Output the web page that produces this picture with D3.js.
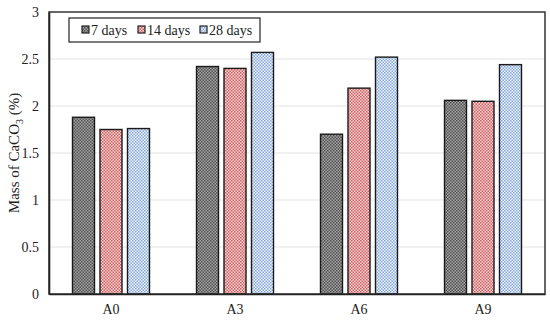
<!DOCTYPE html>
<html>
<head>
<meta charset="utf-8">
<script src="https://cdnjs.cloudflare.com/ajax/libs/d3/7.8.5/d3.min.js"></script>
<style>
  body { margin: 0; background: #fff; }
  text { font-family: "Liberation Serif", "Times New Roman", serif; }
</style>
</head>
<body>
<div id="chart"></div>
<script>
// data
const groups = ["A0", "A3", "A6", "A9"];
const seriesNames = ["7 days", "14 days", "28 days"];
const days7 = [1.88, 2.42, 1.70, 2.06];
const days14 = [1.75, 2.40, 2.19, 2.05];
const days28 = [1.76, 2.57, 2.52, 2.44];
const yTicks = [0, 0.5, 1, 1.5, 2, 2.5, 3];

const seriesValues = [days7, days14, days28];
const patternColors = [
    { a: "#555555", b: "#a0a0a0" },
    { a: "#d06464", b: "#f6d0d0" },
    { a: "#88a9de", b: "#eef3fb" }
];

const width = 550, height = 321;
const margin = { top: 12, right: 5, bottom: 27, left: 49 };

const svg = d3.select("#chart").append("svg")
    .attr("width", width)
    .attr("height", height);

// checker patterns for the bars
const defs = svg.append("defs");
patternColors.forEach((c, i) => {
    const p = defs.append("pattern")
        .attr("id", "pat" + i)
        .attr("patternUnits", "userSpaceOnUse")
        .attr("width", 3).attr("height", 3);
    p.append("rect").attr("width", 3).attr("height", 3).attr("fill", c.b);
    p.append("rect").attr("width", 1.5).attr("height", 1.5).attr("fill", c.a);
    p.append("rect").attr("x", 1.5).attr("y", 1.5).attr("width", 1.5).attr("height", 1.5).attr("fill", c.a);
});

const x0 = d3.scaleBand()
    .domain(groups)
    .range([margin.left, width - margin.right]);

const x1 = d3.scaleBand()
    .domain(seriesNames)
    .range([0, 77])
    .paddingInner(0.2);

const y = d3.scaleLinear()
    .domain([0, 3])
    .range([height - margin.bottom, margin.top]);

// gridlines
svg.append("g")
    .selectAll("line")
    .data(yTicks.filter(d => d > 0 && d < 3))
    .join("line")
    .attr("x1", margin.left)
    .attr("x2", width - margin.right)
    .attr("y1", d => y(d))
    .attr("y2", d => y(d))
    .attr("stroke", "#e3e3e3")
    .attr("stroke-width", 1);

// bars
const bars = svg.append("g");
groups.forEach((g, gi) => {
    const start = x0(g) + (x0.bandwidth() - 77) / 2;
    seriesNames.forEach((s, si) => {
        const v = seriesValues[si][gi];
        bars.append("rect")
            .attr("x", start + x1(s))
            .attr("y", y(v))
            .attr("width", x1.bandwidth())
            .attr("height", y(0) - y(v))
            .attr("fill", "url(#pat" + si + ")")
            .attr("stroke", "#1a1a1a")
            .attr("stroke-width", 1.4);
    });
});

// frame
svg.append("rect")
    .attr("x", margin.left)
    .attr("y", margin.top)
    .attr("width", width - margin.left - margin.right)
    .attr("height", height - margin.top - margin.bottom)
    .attr("fill", "none")
    .attr("stroke", "#333")
    .attr("stroke-width", 1.5);

// y axis
const yAxis = d3.axisLeft(y).tickValues(yTicks).tickSize(0).tickPadding(10)
    .tickFormat(d => d);
svg.append("g")
    .attr("transform", "translate(" + margin.left + ",0)")
    .call(yAxis)
    .call(g => g.select(".domain").attr("stroke", "#222").attr("stroke-width", 1.6))
    .selectAll("text")
    .style("font-size", "14px")
    .attr("fill", "#222");

// x axis
const xAxis = d3.axisBottom(x0).tickSize(0).tickPadding(10);
svg.append("g")
    .attr("transform", "translate(0," + y(0) + ")")
    .call(xAxis)
    .call(g => g.select(".domain").attr("stroke", "#222").attr("stroke-width", 1.6))
    .selectAll("text")
    .style("font-size", "14px")
    .attr("fill", "#222");

// y label
const yLabel = svg.append("text")
    .attr("transform", "translate(19," + ((margin.top + height - margin.bottom) / 2) + ") rotate(-90)")
    .attr("text-anchor", "middle")
    .style("font-size", "15px")
    .attr("fill", "#222");
yLabel.append("tspan").text("Mass of CaCO");
yLabel.append("tspan").attr("dy", 4).style("font-size", "10px").text("3");
yLabel.append("tspan").attr("dy", -4).text(" (%)");

// legend
const legend = svg.append("g");
legend.append("rect")
    .attr("x", 69).attr("y", 18)
    .attr("width", 191).attr("height", 24)
    .attr("fill", "#fff")
    .attr("stroke", "#222")
    .attr("stroke-width", 1.2);
const legendX = [82, 138, 200];
seriesNames.forEach((s, i) => {
    legend.append("rect")
        .attr("x", legendX[i]).attr("y", 26)
        .attr("width", 7).attr("height", 7)
        .attr("fill", "url(#pat" + i + ")")
        .attr("stroke", "#222")
        .attr("stroke-width", 1.2);
    legend.append("text")
        .attr("x", legendX[i] + 9)
        .attr("y", 34.5)
        .style("font-size", "14px")
        .attr("fill", "#222")
        .text(s);
});
</script>
</body>
</html>
